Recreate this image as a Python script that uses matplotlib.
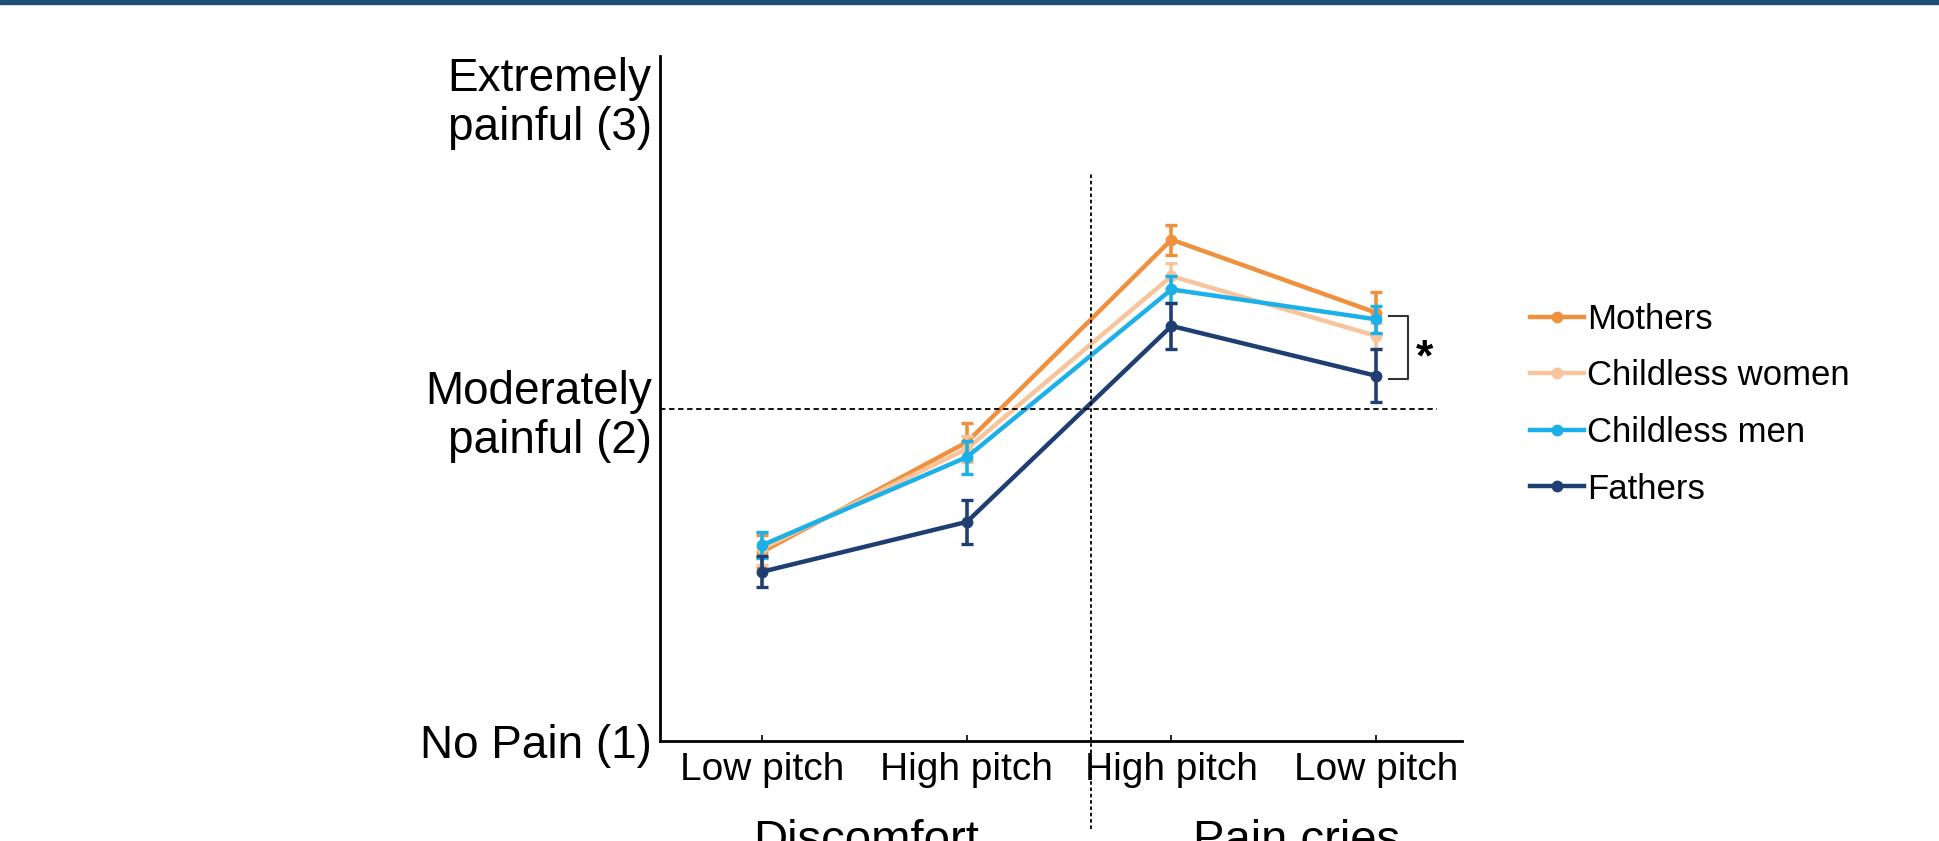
import numpy as np
import matplotlib.pyplot as plt
import matplotlib.transforms as mtransforms
from matplotlib.patches import Rectangle

plt.rcParams['font.family'] = ['Liberation Sans', 'DejaVu Sans']

conditions = ["Low pitch", "High pitch", "High pitch", "Low pitch"]
groups = ["Mothers", "Childless women", "Childless men", "Fathers"]
colors = ["#f0903c", "#f8c49c", "#1cb0e8", "#1f3f73"]

mothers = [1.57, 1.90, 2.51, 2.29]
childless_women = [1.58, 1.88, 2.40, 2.22]
childless_men = [1.59, 1.855, 2.36, 2.27]
fathers = [1.51, 1.66, 2.25, 2.10]

mothers_err = [0.05, 0.057, 0.045, 0.063]
childless_women_err = [0.05, 0.04, 0.04, 0.04]
childless_men_err = [0.04, 0.05, 0.04, 0.04]
fathers_err = [0.046, 0.066, 0.07, 0.08]

y_labels = ["No Pain (1)", "Moderately\npainful (2)", "Extremely\npainful (3)"]

values = [mothers, childless_women, childless_men, fathers]
errors = [mothers_err, childless_women_err, childless_men_err, fathers_err]

fig = plt.figure(figsize=(19.39, 8.41), dpi=100)
ax = fig.add_axes([0.3404, 0.1189, 0.4136, 0.8145])

x = np.arange(len(conditions))
for name, vals, errs, c in zip(groups, values, errors, colors):
    ax.errorbar(x, vals, yerr=errs, fmt='none', ecolor=c, elinewidth=2.6,
                capsize=4.5, capthick=2.4)
    ax.plot(x, vals, color=c, lw=3.2, marker='o', ms=7.5, label=name)

# reference lines
ax.plot([-0.5, 3.30], [2, 2], color='black', lw=1.3, ls=(0, (3, 2)), clip_on=False)
ax.plot([1.605, 1.605], [0.735, 2.71], color='black', lw=1.3, ls=(0, (2, 1.5)),
        clip_on=False)

# significance bracket
ax.plot([3.064, 3.157, 3.157, 3.064], [2.28, 2.28, 2.09, 2.09], color='#333333',
        lw=1.5, clip_on=False)
ax.text(3.235, 2.15, '*', fontsize=32, fontweight='bold', ha='center', va='center')

ax.set_xlim(-0.5, 3.42)
ax.set_ylim(1, 3.063)
ax.set_xticks(x)
ax.set_xticklabels(conditions, fontsize=28)
ax.set_yticks([1, 2, 3])
ax.set_yticklabels(y_labels, fontsize=33, linespacing=1.15)
ax.tick_params(axis='x', direction='in', length=4, width=1.2, pad=8)
ax.tick_params(axis='y', length=0, pad=6)
lab3 = ax.get_yticklabels()[2]
lab3.set_transform(lab3.get_transform() +
                   mtransforms.ScaledTranslation(0, -0.19, fig.dpi_scale_trans))

for s in ['top', 'right']:
    ax.spines[s].set_visible(False)
for s in ['left', 'bottom']:
    ax.spines[s].set_linewidth(2)

ax.legend(loc='upper left', bbox_to_anchor=(0.789, 0.64), bbox_transform=fig.transFigure,
          frameon=False, fontsize=25, handlelength=1.55, handletextpad=0.1,
          labelspacing=0.68, borderpad=0, borderaxespad=0)

fig.text(866 / 1939, -0.0143, "Discomfort", fontsize=34, ha='center', va='baseline')
fig.text(1297 / 1939, -0.0143, "Pain cries", fontsize=34, ha='center', va='baseline')

fig.patches.append(Rectangle((0, 1 - 4 / 841), 1, 4 / 841, transform=fig.transFigure,
                             color='#1f4e79', zorder=10))

fig.savefig("out.png", dpi=100)
